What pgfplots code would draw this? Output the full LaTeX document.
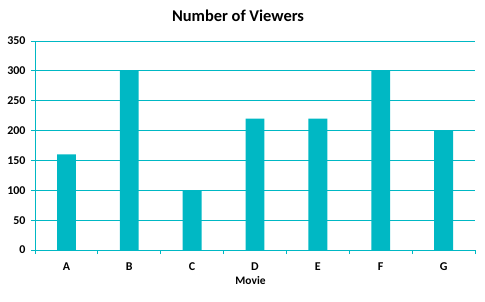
\documentclass[border=0pt]{standalone}
\usepackage{fontspec}
\setmainfont{Carlito}
\usepackage{pgfplots}
\pgfplotsset{compat=1.18}
\definecolor{teal1}{RGB}{0,184,196}
\begin{document}
\begin{tikzpicture}[x=1bp,y=1bp]
\path[use as bounding box] (0,0) rectangle (485,301);
\node[font=\bfseries\fontsize{16.5}{18}\selectfont] at (238,285) {Number of Viewers};
\node[font=\bfseries\fontsize{11.5}{13}\selectfont] at (250.5,20) {Movie};
\begin{axis}[
  at={(35bp,51bp)}, anchor=south west,
  scale only axis, width=440bp, height=209bp,
  xmin=-0.5, xmax=6.5, ymin=0, ymax=350,
  ytick={0,50,...,350},
  ymajorgrids, grid style={teal1, line width=0.9pt},
  axis x line*=bottom, axis y line*=left,
  axis line style={teal1, line width=0.9pt},
  tick style={teal1, line width=0.9pt},
  tick align=outside, major tick length=4bp,
  xtick={-0.5,0.5,...,6.5}, xticklabels={},
  extra x ticks={0,1,2,3,4,5,6},
  extra x tick labels={A,B,C,D,E,F,G},
  extra x tick style={major tick length=0pt, grid=none},
  ticklabel style={font=\bfseries\fontsize{12}{14}\selectfont, text=black},
  /pgf/number format/assume math mode=true,
  yticklabel style={xshift=-2bp},
  xticklabel style={yshift=-9bp},
]
\addplot[ybar, bar width=0.3, fill=teal1, draw=none] coordinates {
(0,160) (1,300) (2,100) (3,220) (4,220) (5,300) (6,200)};
\end{axis}
\end{tikzpicture}
\end{document}
